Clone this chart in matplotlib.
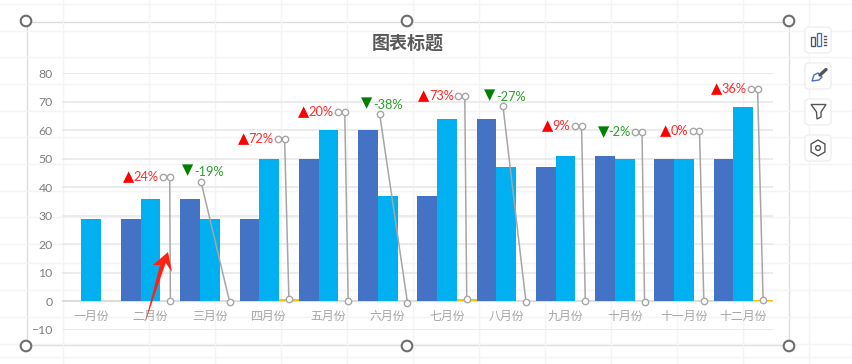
import matplotlib
matplotlib.use("Agg")
import matplotlib.pyplot as plt
from matplotlib.patches import Rectangle, FancyBboxPatch, Polygon, Circle, RegularPolygon

W, H = 853, 364
months = ['一月份', '二月份', '三月份', '四月份', '五月份', '六月份',
          '七月份', '八月份', '九月份', '十月份', '十一月份', '十二月份']
prev_year = [None, 29, 36, 29, 50, 60, 37, 64, 47, 51, 50, 50]
this_year = [29, 36, 29, 50, 60, 37, 64, 47, 51, 50, 50, 68]
rate = [None, 0.24, -0.19, 0.72, 0.20, -0.38, 0.73, -0.27, 0.09, -0.02, 0.0, 0.36]
rate_text = [None, '24%', '-19%', '72%', '20%', '-38%', '73%', '-27%', '9%', '-2%', '0%', '36%']
# label anchor of each moved data label (category position, value)
label_x = [None, 1.322, 1.85, 3.26, 4.275, 4.865, 6.30, 6.945, 8.27, 9.29, 10.26, 11.24]
label_y = [None, 43.7, 41.9, 56.9, 66.4, 65.5, 72.0, 68.3, 61.4, 59.2, 59.7, 74.4]
label_above = [None, False, True, False, False, True, False, True, False, False, False, False]
y_ticks = [-10, 0, 10, 20, 30, 40, 50, 60, 70, 80]
sheet_rows = [4, 31, 57, 84, 111, 137, 164, 191, 217, 244, 263, 290, 317, 344, 357]
sheet_cols = [63, 149, 215, 281, 347, 413, 479, 545, 611, 677, 743, 809]

LATIN = ['Lato', 'DejaVu Sans']
CJK = ['Noto Sans CJK SC', 'DejaVu Sans']
BLUE, CYAN, GOLD = '#4472c4', '#00b0f0', '#ffc000'
GREY = '#a6a6a6'

fig = plt.figure(figsize=(W / 100, H / 100), dpi=100, facecolor='white')


def pixel_axes(z):
    a = fig.add_axes([0, 0, 1, 1], zorder=z)
    a.set_xlim(0, W)
    a.set_ylim(H, 0)
    a.axis('off')
    return a


# sheet background and chart area
bg = pixel_axes(0)
for r in sheet_rows:
    bg.plot([0, W], [r, r], color='#f4f4f4', lw=1)
for c in sheet_cols:
    bg.plot([c, c], [0, H], color='#f4f4f4', lw=1)
bg.add_patch(Rectangle((27, 21.5), 762, 323.5, fc='white', ec='#dcdcdc', lw=1))

# main plot
ax = fig.add_axes([61.7 / W, 1 - 330 / H, (773 - 61.7) / W, (330 - 73) / H], zorder=1)
ax.patch.set_alpha(0)
xs = list(range(12))
bw = 1 / 3
ax.bar([x - bw for x in xs], [0 if v is None else v for v in prev_year], bw, color=BLUE, zorder=3)
ax.bar(xs, this_year, bw, color=CYAN, zorder=3)
ax.bar([x + bw for x in xs], [0 if v is None else max(v, 0) for v in rate], bw, color=GOLD, zorder=3)
ax.set_xlim(-0.5, 11.5)
ax.set_ylim(-10, 80)
ax.set_yticks(y_ticks)
ax.set_xticks([])
ax.grid(axis='y', color='#e8e8e8', lw=1.2, zorder=0)
ax.set_axisbelow(True)
for s in ax.spines.values():
    s.set_visible(False)
ax.tick_params(axis='y', length=0, pad=6.5, labelcolor='#7f7f7f', labelsize=8.8)
for t in ax.get_yticklabels():
    t.set_family(LATIN)
ax.axhline(0, color='#d9d9d9', lw=1.2, zorder=2)
for x, m in zip(xs, months):
    ax.annotate(m, (x, 0), xytext=(0, -10.8), textcoords='offset points', ha='center', va='center',
                color='#a6a6a6', fontsize=8.6, family=CJK, zorder=4)

# leader lines and data labels
mk = dict(marker='o', ms=4.6, mfc='white', mec=GREY, mew=1, color=GREY, clip_on=False, zorder=6)
for i in range(1, 12):
    px = i + bw
    ax.plot([px, label_x[i]], [rate[i], label_y[i]], lw=1.1, **mk)
    up = rate[i] >= 0
    col = '#ff0000' if up else '#008000'
    txtcol = '#ff2a2a' if up else '#2e9e2e'
    sym = '▲' if up else '▼'
    if label_above[i]:
        ax.annotate(sym, (label_x[i], label_y[i]), xytext=(-9.7, 8.2), textcoords='offset points',
                    ha='center', va='center', color=col, fontsize=10.5, family=LATIN, zorder=7)
        ax.annotate(rate_text[i], (label_x[i], label_y[i]), xytext=(-4.8, 7.0), textcoords='offset points',
                    ha='left', va='center', color=txtcol, fontsize=9.2, family=LATIN, zorder=7)
    else:
        ax.plot([label_x[i] - 0.112], [label_y[i]], ms=4.6, marker='o', mfc='white', mec=GREY, mew=1,
                ls='none', zorder=6)
        a = ax.annotate(rate_text[i], (label_x[i], label_y[i]), xytext=(-8.0, 0), textcoords='offset points',
                        ha='right', va='center', color=txtcol, fontsize=9.2, family=LATIN, zorder=7)
        fig.canvas.draw()
        bb = a.get_window_extent()
        ax.annotate(sym, xy=(bb.x0 + 0.5, bb.y0 + bb.height / 2), xycoords='figure pixels', ha='right',
                    va='center', color=col, fontsize=10.5, family=LATIN, zorder=7)

# overlays: title, handles, arrow, side toolbar
ov = pixel_axes(3)
ov.text(408, 43, '图表标题', ha='center', va='center', fontsize=13, color='#595959',
        family=CJK, fontweight='bold')
for hx in (26, 407, 789):
    for hy in (21, 346):
        ov.add_patch(Circle((hx, hy), 5.3, fc='white', ec='#6e6e6e', lw=1.5, zorder=5))
ov.add_patch(Polygon([(145, 323), (160, 265), (153, 265), (168, 252), (172, 272), (165.7, 263)],
                     closed=True, fc='#ff2112', ec='none', zorder=6))
for cy in (40, 76, 112, 148):
    ov.add_patch(FancyBboxPatch((807, cy - 11), 22, 22, boxstyle='round,pad=2,rounding_size=4',
                                fc='white', ec='#eeeeee', lw=1))
ic = '#555555'
# chart elements icon
ov.add_patch(Rectangle((811, 37), 4.5, 9, fc='none', ec=ic, lw=1))
ov.add_patch(Rectangle((817.5, 33), 4, 13, fc='none', ec='#4472c4', lw=1))
for yy in (36, 39, 42, 45):
    ov.plot([824.5, 826.5], [yy, yy], color=ic, lw=1)
# brush icon
ov.plot([820, 826], [75, 69.5], color='#555555', lw=2.4, solid_capstyle='round')
ov.add_patch(Polygon([(812, 81), (814, 75), (818, 73), (822, 77), (819, 80)], closed=True,
                     fc='none', ec='#4472c4', lw=1))
# filter icon
ov.add_patch(Polygon([(811, 104.5), (826, 104.5), (821, 112), (821, 117), (817, 119), (816.5, 112)],
                     closed=True, fc='none', ec=ic, lw=1))
# settings icon
ov.add_patch(RegularPolygon((818, 148), 6, radius=8, fc='none', ec=ic, lw=1))
ov.add_patch(Circle((818, 148), 2.4, fc='none', ec=ic, lw=1))

fig.savefig('out.png', dpi=100)
